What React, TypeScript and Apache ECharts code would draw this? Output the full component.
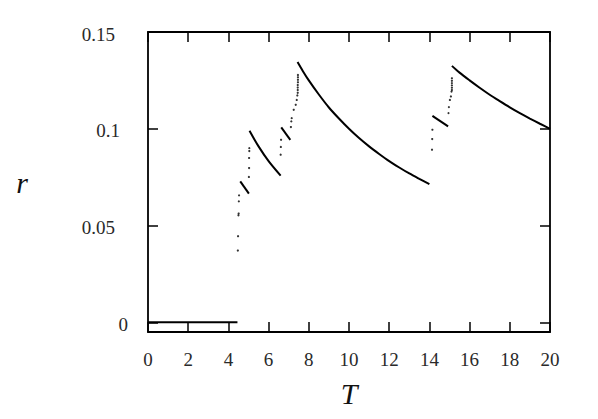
import React, { useEffect, useRef } from "react";
import * as echarts from "echarts";

// Solid branches of r(T)
const baseT = [0, 4.45];
const baseR = [0, 0];
const segAT = [4.59, 5.02];
const segAR = [0.0728, 0.0665];
const segBT = [5.05, 5.5, 6.0, 6.6];
const segBR = [0.099, 0.0909, 0.0833, 0.0758];
const segCT = [6.63, 7.08];
const segCR = [0.1007, 0.0943];
const segDT = [7.44, 7.7, 8.0, 8.5, 9.0, 9.5, 10.0, 10.5, 11.0, 11.5, 12.0, 12.5, 13.0, 13.5, 14.0];
const segDR = [0.1345, 0.1299, 0.125, 0.1177, 0.111, 0.1053, 0.1, 0.0952, 0.0909, 0.087, 0.0833, 0.08, 0.0769, 0.0741, 0.0714];
const segET = [14.15, 14.93];
const segER = [0.1067, 0.1012];
const segFT = [15.12, 15.5, 16.0, 16.5, 17.0, 17.5, 18.0, 18.5, 19.0, 19.5, 20.0];
const segFR = [0.1325, 0.129, 0.125, 0.1212, 0.1176, 0.1143, 0.1111, 0.1081, 0.1053, 0.1026, 0.1];

// Isolated points
const dotT = [
  4.47, 4.48, 4.5, 4.51, 4.52, 4.53,
  5.02, 5.03, 5.03, 5.04, 5.04,
  6.6, 6.61, 6.62,
  7.11, 7.13, 7.15, 7.25, 7.35, 7.4, 7.43, 7.45, 7.45, 7.45, 7.45, 7.46, 7.46, 7.46, 7.46,
  14.13, 14.14, 14.15,
  14.95, 14.97, 15.02, 15.07, 15.1, 15.12, 15.12, 15.12, 15.12, 15.12, 15.12,
];
const dotR = [
  0.0371, 0.0445, 0.0553, 0.0562, 0.0625, 0.0656,
  0.0751, 0.0797, 0.0849, 0.0885, 0.09,
  0.0866, 0.0906, 0.0943,
  0.1009, 0.1038, 0.1055, 0.1098, 0.1124, 0.1149, 0.1172, 0.1186, 0.12, 0.1213, 0.1226, 0.124, 0.1253, 0.1266, 0.1278,
  0.0892, 0.0947, 0.0995,
  0.1081, 0.1112, 0.1149, 0.1167, 0.1192, 0.12, 0.1212, 0.1224, 0.1236, 0.1248, 0.1261,
];

const yTicks = [0, 0.05, 0.1, 0.15];
const yLabels = ["0", "0.05", "0.1", "0.15"];

const zip = (a: number[], b: number[]) => a.map((v, i) => [v, b[i]]);

export default function App() {
  const ref = useRef<HTMLDivElement>(null);
  useEffect(() => {
    if (!ref.current) return;
    const chart = echarts.init(ref.current, null, { renderer: "svg" });
    const font = "'Liberation Serif', serif";
    const frame = { show: true, onZero: false, lineStyle: { color: "#000", width: 1.8 } };
    const tick = (extra: any = {}) => ({
      show: true,
      inside: true,
      length: 10,
      lineStyle: { color: "#000", width: 1.5 },
      ...extra,
    });
    const lineSeries = (name: string, t: number[], r: number[], smooth = false) => ({
      name,
      type: "line",
      data: zip(t, r),
      showSymbol: false,
      smooth: smooth ? 0.3 : false,
      lineStyle: { color: "#000", width: 2 },
      xAxisIndex: 0,
      yAxisIndex: 0,
      silent: true,
    });
    const labelStyle = { fontFamily: font, fontSize: 19, color: "#2a2a2a" };
    chart.setOption({
      animation: false,
      backgroundColor: "#fff",
      grid: { left: 148, right: 48, top: 32, bottom: 87 },
      xAxis: [
        {
          type: "value",
          min: 0,
          max: 20,
          interval: 2,
          name: "T",
          nameLocation: "middle",
          nameGap: 46,
          nameTextStyle: { fontFamily: font, fontStyle: "italic", fontSize: 30, color: "#111" },
          axisLine: frame,
          axisTick: tick(),
          axisLabel: { ...labelStyle, margin: 18 },
          splitLine: { show: false },
        },
        {
          type: "value",
          position: "top",
          min: 0,
          max: 20,
          interval: 2,
          axisLine: frame,
          axisTick: tick(),
          axisLabel: { show: false },
          splitLine: { show: false },
        },
      ],
      yAxis: [
        {
          type: "value",
          min: -0.005,
          max: 0.15,
          name: "r",
          nameLocation: "middle",
          nameRotate: 0,
          nameGap: 120,
          nameTextStyle: { fontFamily: font, fontStyle: "italic", fontSize: 30, color: "#111" },
          axisLine: frame,
          axisTick: tick({ customValues: yTicks }),
          axisLabel: {
            customValues: yTicks,
            margin: 20,
            formatter: (v: number) => {
              const i = yTicks.findIndex((t) => Math.abs(t - v) < 1e-9);
              const s = i >= 0 ? yLabels[i] : "";
              const k = s === "0" ? "z" : s === "0.1" ? "m" : "w";
              return `{${k}|${s}}`;
            },
            rich: {
              z: { ...labelStyle, padding: [4, 0, 0, 0] },
              m: { ...labelStyle, padding: [4, 8, 0, 0] },
              w: { ...labelStyle, padding: [4, 13, 0, 0] },
            },
          },
          splitLine: { show: false },
        },
        {
          type: "value",
          position: "right",
          min: -0.005,
          max: 0.15,
          axisLine: frame,
          axisTick: tick({ customValues: yTicks }),
          axisLabel: { show: false },
          splitLine: { show: false },
        },
      ],
      series: [
        lineSeries("base", baseT, baseR),
        lineSeries("a", segAT, segAR),
        lineSeries("b", segBT, segBR, true),
        lineSeries("c", segCT, segCR),
        lineSeries("d", segDT, segDR, true),
        lineSeries("e", segET, segER),
        lineSeries("f", segFT, segFR, true),
        {
          name: "dots",
          type: "scatter",
          data: zip(dotT, dotR),
          symbol: "circle",
          symbolSize: 2.2,
          itemStyle: { color: "#000" },
          silent: true,
        },
      ],
    });
    return () => chart.dispose();
  }, []);
  return (
    <div
      ref={ref}
      style={{ position: "fixed", left: 0, top: 0, width: 598, height: 419, background: "#fff" }}
    />
  );
}
